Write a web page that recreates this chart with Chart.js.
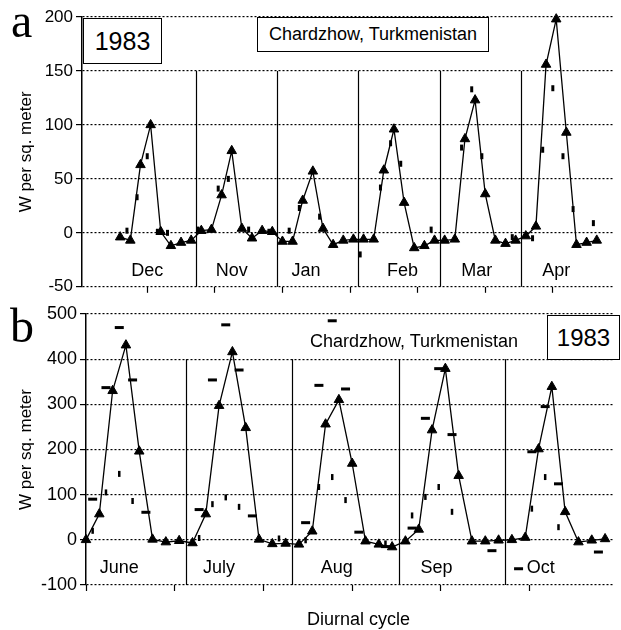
<!DOCTYPE html>
<html>
<head>
<meta charset="utf-8">
<script src="https://cdn.jsdelivr.net/npm/chart.js@4"></script>
<style>
body { margin: 0; background: #fff; width: 621px; height: 630px; position: relative; overflow: hidden;
       font-family: "Liberation Sans", Arial, sans-serif; color: #000; }
.wrap { position: absolute; left: 0; width: 621px; }
#wa { top: 0; height: 300px; }
#wb { top: 300px; height: 330px; }
.letter { position: absolute; font-family: "Liberation Serif", serif; font-size: 48px; line-height: 1; }
.box { position: absolute; border: 1.5px solid #000; background: #fff; box-sizing: border-box;
       display: flex; align-items: center; justify-content: center; }
.txt { position: absolute; white-space: nowrap; }
</style>
</head>
<body>
<div class="wrap" id="wa"><canvas id="ca"></canvas></div>
<div class="wrap" id="wb"><canvas id="cb"></canvas></div>

<div class="letter" style="left:11px; top:-3px;">a</div>
<div class="letter" style="left:10px; top:302px;">b</div>
<div class="box" style="left:83px; top:18px; width:79px; height:46px; font-size:25px;">1983</div>
<div class="box" style="left:257px; top:17px; width:232px; height:35px; font-size:18px;">Chardzhow, Turkmenistan</div>
<div class="txt" style="left:310px; top:331px; font-size:18px;">Chardzhow, Turkmenistan</div>
<div class="box" style="left:547px; top:315px; width:73px; height:45px; font-size:24px;">1983</div>
<div class="txt" style="left:307px; top:609px; font-size:18px;">Diurnal cycle</div>

<script>
// 8 readings per month, 3 hours apart; x axis is in hours
// panel a (winter half)
var monthsA = ['Dec', 'Nov', 'Jan', 'Feb', 'Mar', 'Apr'];
var triA = [
    [-4, -7, 63, 100, 1, -12, -9, -7],
    [2, 3, 35, 76, 4, -5, 2, 1],
    [-8, -8, 30, 57, 4, -11, -7, -6],
    [-6, -6, 58, 96, 28, -14, -12, -7],
    [-7, -6, 87, 123, 36, -7, -10, -7],
    [-3, 6, 156, 198, 93, -11, -9, -7]
];
var barA = [
    [2, 33, 71, 1, 0, null, null, 3],
    [null, 41, 50, null, 3, null, 1, null],
    [2, 23, null, 15, null, null, null, -20],
    [null, 42, 83, 64, null, null, 3, null],
    [null, 79, 133, 71, null, null, -4, null],
    [-5, 77, 134, 71, 22, null, 9, null]
];
var labelHourA = [20, 45, 67, 95.5, 117.5, 141];

// panel b (summer half)
var monthsB = ['June', 'July', 'Aug', 'Sep', 'Oct'];
var triB = [
    [0, 57, 330, 431, 196, 1, -5, -2],
    [-7, 57, 297, 416, 248, 1, -9, -8],
    [-10, 19, 256, 310, 169, -3, -10, -16],
    [-3, 23, 243, 379, 142, -3, -3, -1],
    [0, 5, 201, 339, 62, -5, -1, 2]
];
var dashB = [
    [90, 337, 470, 354, 61, null, null, null],
    [67, 354, 476, 376, 53, null, null, null],
    [38, 342, 485, 334, 17, null, -15, null],
    [26, 269, 379, 233, null, null, -24, null],
    [-64, 195, 295, 124, null, null, -27, null]
];
var barB = [
    [20, 105, 146, 86, null, null, null, null],
    [4, 79, 94, 73, null, null, 3, null],
    [-1, 117, 139, 88, null, null, -8, null],
    [54, 95, 117, 62, null, null, null, null],
    [null, 69, 139, 28, null, null, null, null]
];
var labelHourB = [7.5, 30, 56.5, 79, 102.5];

var FONT = "'Liberation Sans', Arial, sans-serif";
Chart.defaults.font.family = FONT;
Chart.defaults.color = '#000';

function pts(rows, start, shift) {
    var out = [];
    rows.forEach(function (row, m) {
        row.forEach(function (v, k) {
            if (v !== null) out.push({ x: start + m * 24 + k * 3 + shift, y: v });
        });
    });
    return out;
}
function dividers(n, start) {
    var d = [];
    for (var m = 1; m < n; m++) d.push(start + m * 24 - 1.5);
    return d;
}

// month dividers + month names
var monthPlugin = {
    id: 'months',
    afterDatasetsDraw: function (chart, args, o) {
        var ctx = chart.ctx, xs = chart.scales.x, ys = chart.scales.y, area = chart.chartArea;
        ctx.save();
        ctx.strokeStyle = '#000';
        ctx.lineWidth = 1.2;
        o.dividers.forEach(function (h) {
            var x = Math.round(xs.getPixelForValue(h)) + 0.5;
            ctx.beginPath();
            ctx.moveTo(x, ys.getPixelForValue(o.divTop));
            ctx.lineTo(x, area.bottom);
            ctx.stroke();
        });
        ctx.fillStyle = '#000';
        ctx.font = '18px ' + FONT;
        ctx.textAlign = 'center';
        ctx.textBaseline = 'middle';
        o.labels.forEach(function (l, i) {
            ctx.fillText(l, xs.getPixelForValue(o.labelAt[i]), ys.getPixelForValue(o.labelY));
        });
        ctx.restore();
    }
};

function panel(id, cfg) {
    var sets = [{
        data: cfg.tri, showLine: true, borderColor: '#000', borderWidth: 1.3,
        pointStyle: 'triangle', pointRadius: 5.5, pointBackgroundColor: '#000',
        pointBorderColor: '#000', pointBorderWidth: 1, clip: false, order: 1
    }];
    if (cfg.dash) sets.push({
        data: cfg.dash, showLine: false, pointStyle: 'line', pointRadius: 4.5,
        pointBorderColor: '#000', pointBorderWidth: 3, clip: false, order: 2
    });
    sets.push({
        data: cfg.bar, showLine: false, pointStyle: 'line', pointRotation: 90, pointRadius: 3,
        pointBorderColor: '#000', pointBorderWidth: cfg.barW, clip: false, order: 3
    });
    return new Chart(document.getElementById(id), {
        type: 'scatter',
        data: { datasets: sets },
        options: {
            responsive: true, maintainAspectRatio: false, animation: false,
            layout: { padding: { top: cfg.padTop, left: 0, right: 0, bottom: 0 } },
            plugins: {
                legend: { display: false }, tooltip: { enabled: false },
                months: {
                    dividers: cfg.dividers, divTop: cfg.divTop, labels: cfg.labels,
                    labelAt: cfg.labelAt, labelY: cfg.labelY
                }
            },
            scales: {
                x: {
                    type: 'linear', min: cfg.xmin, max: cfg.xmax,
                    ticks: { display: false, stepSize: 20, includeBounds: false },
                    grid: { drawOnChartArea: false, drawTicks: true, tickLength: 6, tickColor: '#000', tickWidth: 1.2 },
                    border: { display: false },
                    afterFit: function (s) { s.height = cfg.xH; }
                },
                y: {
                    min: cfg.ymin, max: cfg.ymax,
                    ticks: { stepSize: cfg.step, padding: 3, font: { size: cfg.tickSize }, color: '#000' },
                    grid: { color: '#000', lineWidth: 1.2, tickLength: 6, tickColor: '#000', tickWidth: 1.2, tickBorderDash: [] },
                    border: { display: true, color: '#000', width: 1.5, dash: [2, 2] },
                    title: { display: true, text: 'W per sq. meter', font: { size: 17 }, color: '#000', padding: { top: 16, bottom: 0 } },
                    afterFit: function (s) { s.width = cfg.yW; }
                }
            }
        },
        plugins: [monthPlugin]
    });
}

panel('ca', {
    tri: pts(triA, 12, 0), bar: pts(barA, 12, 2), barW: 3,
    xmin: 0.7, xmax: 158.1, ymin: -50, ymax: 200, step: 50, tickSize: 17,
    padTop: 17, xH: 13, yW: 82,
    dividers: dividers(monthsA.length, 12), divTop: 150,
    labels: monthsA, labelAt: labelHourA, labelY: -35
});
panel('cb', {
    tri: pts(triB, 0, 0), dash: pts(dashB, 0, 1.5), bar: pts(barB, 0, 1.5), barW: 2.5,
    xmin: 0, xmax: 118.9, ymin: -100, ymax: 500, step: 100, tickSize: 18,
    padTop: 14, xH: 45, yW: 86,
    dividers: dividers(monthsB.length, 0), divTop: 400,
    labels: monthsB, labelAt: labelHourB, labelY: -63
});
</script>
</body>
</html>
